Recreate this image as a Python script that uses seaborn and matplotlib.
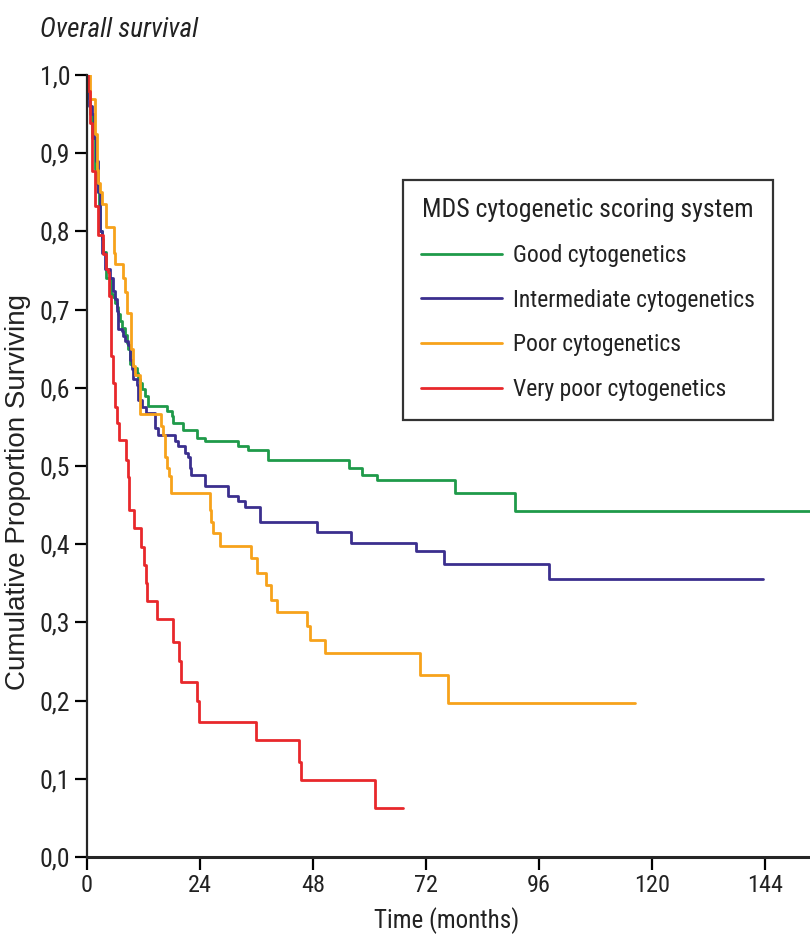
import numpy as np
import pandas as pd
import matplotlib
matplotlib.use("Agg")
import matplotlib.pyplot as plt
from matplotlib.lines import Line2D
from matplotlib import font_manager
import seaborn as sns

# ---------------- data ----------------
groups = ["Good cytogenetics", "Intermediate cytogenetics",
          "Poor cytogenetics", "Very poor cytogenetics"]

good_t = [0, 0.3, 0.6, 1.0, 1.7, 2.1, 2.4, 2.6, 2.75, 3.1,
          3.5, 4.0, 5.2, 5.6, 5.9, 6.3, 6.6, 7.0, 7.4, 8.1,
          8.4, 8.8, 9.1, 9.8, 10.6, 10.9, 11.3, 11.6, 12.3, 13.0,
          16.9, 18.0, 18.3, 20.5, 23.3, 25.1, 32.1, 34.2, 38.4, 55.6,
          58.4, 61.6, 78.2, 90.9, 155]
good_s = [1.0, 0.97, 0.95, 0.92, 0.88, 0.86, 0.85, 0.833, 0.80, 0.79,
          0.774, 0.741, 0.720, 0.716, 0.709, 0.703, 0.694, 0.685, 0.677, 0.668,
          0.657, 0.649, 0.630, 0.625, 0.619, 0.611, 0.606, 0.598, 0.589, 0.577,
          0.570, 0.564, 0.555, 0.546, 0.536, 0.532, 0.525, 0.520, 0.508, 0.497,
          0.489, 0.482, 0.465, 0.442, 0.442]

inter_t = [0, 0.5, 1.0, 1.5, 2.0, 2.4, 2.75, 3.1, 3.8, 4.9,
           5.5, 5.9, 6.3, 6.6, 7.4, 7.6, 8.1, 8.7, 9.1, 9.5,
           9.7, 10.6, 10.8, 11.6, 12.6, 14.4, 15.0, 18.6, 19.3, 20.8,
           21.4, 21.8, 22.2, 25.0, 29.9, 32.0, 33.5, 36.7, 48.9, 56.1,
           69.9, 75.8, 98.2, 143.6]
inter_s = [1.0, 0.96, 0.95, 0.92, 0.89, 0.85, 0.80, 0.773, 0.752, 0.740,
           0.724, 0.713, 0.698, 0.675, 0.673, 0.666, 0.660, 0.655, 0.636, 0.624,
           0.611, 0.604, 0.585, 0.575, 0.568, 0.549, 0.540, 0.532, 0.525, 0.517,
           0.512, 0.498, 0.489, 0.474, 0.461, 0.455, 0.447, 0.428, 0.415, 0.402,
           0.391, 0.375, 0.356, 0.356]

poor_t = [0, 0.6, 1.7, 2.1, 2.4, 2.75, 3.1, 4.0, 5.7, 5.9,
          7.7, 8.1, 8.4, 9.3, 9.4, 9.8, 10.2, 11.2, 15.8, 16.2,
          16.5, 16.9, 17.4, 17.9, 26.1, 26.4, 26.8, 28.3, 34.9, 36.1,
          38.1, 39.1, 40.3, 46.8, 47.4, 50.6, 70.7, 76.7, 116.5]
poor_s = [1.0, 0.969, 0.924, 0.879, 0.862, 0.850, 0.835, 0.805, 0.773, 0.758,
          0.741, 0.722, 0.696, 0.662, 0.649, 0.628, 0.617, 0.566, 0.551, 0.540,
          0.512, 0.498, 0.487, 0.466, 0.444, 0.429, 0.414, 0.398, 0.382, 0.363,
          0.348, 0.329, 0.313, 0.296, 0.278, 0.261, 0.233, 0.197, 0.197]

vpoor_t = [0, 0.3, 0.6, 1.0, 1.7, 2.4, 3.5, 4.0, 4.5, 4.7,
           5.0, 5.2, 5.6, 5.9, 6.3, 6.9, 8.3, 8.8, 9.0, 10.0,
           11.5, 12.1, 12.5, 12.7, 14.9, 18.3, 19.6, 20.0, 23.4, 23.7,
           36.0, 45.1, 45.5, 61.2, 67.2]
vpoor_s = [1.0, 0.98, 0.938, 0.877, 0.832, 0.795, 0.771, 0.752, 0.748, 0.718,
           0.675, 0.641, 0.606, 0.576, 0.555, 0.533, 0.508, 0.486, 0.444, 0.421,
           0.396, 0.373, 0.351, 0.328, 0.304, 0.275, 0.251, 0.224, 0.200, 0.173,
           0.149, 0.122, 0.098, 0.063, 0.063]

x_ticks = [0, 24, 48, 72, 96, 120, 144]
y_ticks = [0.0, 0.1, 0.2, 0.3, 0.4, 0.5, 0.6, 0.7, 0.8, 0.9, 1.0]
y_tick_labels = ["0,0", "0,1", "0,2", "0,3", "0,4", "0,5",
                 "0,6", "0,7", "0,8", "0,9", "1,0"]

colors = ["#1f9a4a", "#3b2f8e", "#f7a21b", "#e8282b"]

# ---------------- build table ----------------
series = [(good_t, good_s), (inter_t, inter_s), (poor_t, poor_s), (vpoor_t, vpoor_s)]
frames = []
for g, (t, s) in zip(groups, series):
    frames.append(pd.DataFrame({"time": t, "surv": s, "group": g}))
df = pd.concat(frames, ignore_index=True)

# ---------------- fonts: pick a narrow face if one is installed ----------------
installed = font_manager.fontManager.ttflist
names = {f.name for f in installed}
narrow = None
for cand in ["Liberation Sans Narrow", "DejaVu Sans Condensed", "Roboto Condensed",
             "Open Sans Condensed"]:
    if cand in names:
        narrow = cand
        break
stretch = "normal"
if narrow is None:
    cond = [f for f in installed
            if f.name in ("DejaVu Sans", "Liberation Sans", "Roboto", "Open Sans")
            and str(f.stretch) in ("condensed", "semi-condensed", "75", "87")]
    if cond:
        narrow = cond[0].name
        stretch = cond[0].stretch
    else:
        narrow = "Liberation Sans" if "Liberation Sans" in names else "DejaVu Sans"
base_family = [narrow, "DejaVu Sans"]
ylab_family = ["Liberation Sans", "DejaVu Sans"]

# ---------------- style ----------------
sns.set_style("ticks")
plt.rcParams["font.family"] = base_family
plt.rcParams["font.stretch"] = stretch

fig = plt.figure(figsize=(8.1, 9.42), dpi=100)
ax = fig.add_axes([87 / 810, 1 - 857 / 942, 723 / 810, 782 / 942])

sns.lineplot(data=df, x="time", y="surv", hue="group", hue_order=groups,
             palette=colors, drawstyle="steps-post", estimator=None,
             sort=False, linewidth=2.0, legend=False, ax=ax)

ax.set_xlim(0, 153.6)
ax.set_ylim(0, 1.0)
ax.set_xticks(x_ticks)
ax.set_xticklabels([str(v) for v in x_ticks])
ax.set_yticks(y_ticks)
ax.set_yticklabels(y_tick_labels)
ax.tick_params(axis="both", direction="out", length=9, width=1.6,
               colors="black", pad=3)
ax.tick_params(axis="y", labelsize=18.5, labelcolor="#222222")
ax.tick_params(axis="x", labelsize=17.5, labelcolor="#222222")
for side in ["top", "right"]:
    ax.spines[side].set_visible(False)
ax.spines["left"].set_linewidth(1.6)
ax.spines["bottom"].set_linewidth(2.2)

ax.set_xlabel("Time (months)", fontsize=18, color="#222222")
ax.set_ylabel("Cumulative Proportion Surviving", fontsize=20,
              family=ylab_family, color="#222222")
ax.xaxis.set_label_coords(0.498, -0.064)
ax.yaxis.set_label_coords(-0.077, 0.467)

fig.text(40 / 810, 1 - 30 / 942, "Overall survival", fontsize=19.5,
         style="italic", ha="left", va="center", color="#222222")

handles = [Line2D([0], [0], color=c, lw=2.0) for c in colors]
leg = ax.legend(handles, groups, title="MDS cytogenetic scoring system",
                loc="upper left", bbox_to_anchor=(0.437, 0.866),
                borderaxespad=0, frameon=True, fancybox=False,
                fontsize=17, title_fontsize=18.5, handlelength=3.4,
                handletextpad=0.47, labelspacing=0.92, borderpad=0.78)
leg.get_frame().set_edgecolor("black")
leg.get_frame().set_linewidth(1.6)
leg.get_frame().set_facecolor("white")
for txt in leg.get_texts():
    txt.set_color("#222222")
leg.get_title().set_color("#222222")

fig.savefig("out.png", dpi=100)
